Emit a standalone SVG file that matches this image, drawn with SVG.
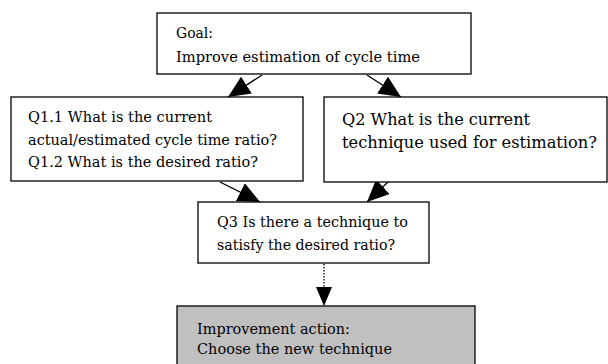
<svg xmlns="http://www.w3.org/2000/svg" width="608" height="364" viewBox="0 0 608 364">
<defs>
<style>
.box{fill:#fff;stroke:#000;stroke-width:1.3}
.gray{fill:#c0c0c0;stroke:#000;stroke-width:1.3}
.t{font-family:"DejaVu Serif","Liberation Serif",serif;font-size:14px;fill:#000}
.big{font-size:17px}
.conn{stroke:#000;stroke-width:1.3;fill:none}
.dot{stroke-dasharray:1.5 1.5}
</style>
<marker id="ah" viewBox="0 0 22 20" refX="22" refY="10" markerWidth="22" markerHeight="20" markerUnits="userSpaceOnUse" orient="auto">
<path d="M0,0 L22,10 L0,20 Z" fill="#000"/>
</marker>
<marker id="ahs" viewBox="0 0 19 16" refX="19" refY="8" markerWidth="19" markerHeight="16" markerUnits="userSpaceOnUse" orient="auto">
<path d="M0,0 L19,8 L0,16 Z" fill="#000"/>
</marker>
</defs>
<rect width="608" height="364" fill="#fff"/>
<g id="connectors">
<line class="conn" x1="262" y1="75" x2="228" y2="97" marker-end="url(#ah)"/>
<line class="conn" x1="367" y1="75" x2="401" y2="97" marker-end="url(#ah)"/>
<line class="conn" x1="220" y1="182" x2="260" y2="202" marker-end="url(#ah)"/>
<line class="conn" x1="388" y1="182" x2="367" y2="202" marker-end="url(#ah)"/>
<line class="conn dot" x1="324" y1="264" x2="324" y2="306" marker-end="url(#ahs)"/>
</g>
<g id="goal">
<rect class="box" x="157" y="13" width="314" height="61"/>
<text class="t" x="176" y="38" textLength="37" lengthAdjust="spacingAndGlyphs">Goal:</text>
<text class="t" x="176" y="62" textLength="244" lengthAdjust="spacingAndGlyphs">Improve estimation of cycle time</text>
</g>
<g id="q1">
<rect class="box" x="11" y="97" width="292" height="84"/>
<text class="t" x="28" y="122" textLength="184" lengthAdjust="spacingAndGlyphs">Q1.1 What is the current</text>
<text class="t" x="28" y="145" textLength="249" lengthAdjust="spacingAndGlyphs">actual/estimated cycle time ratio?</text>
<text class="t" x="28" y="167" textLength="230" lengthAdjust="spacingAndGlyphs">Q1.2 What is the desired ratio?</text>
</g>
<g id="q2">
<rect class="box" x="324" y="97" width="283" height="85"/>
<text class="t big" x="342" y="125" textLength="188" lengthAdjust="spacingAndGlyphs">Q2 What is the current</text>
<text class="t big" x="342" y="148" textLength="255" lengthAdjust="spacingAndGlyphs">technique used for estimation?</text>
</g>
<g id="q3">
<rect class="box" x="198" y="202" width="231" height="61"/>
<text class="t" x="217" y="227" textLength="191" lengthAdjust="spacingAndGlyphs">Q3 Is there a technique to</text>
<text class="t" x="217" y="250" textLength="178" lengthAdjust="spacingAndGlyphs">satisfy the desired ratio?</text>
</g>
<g id="action">
<rect class="gray" x="177" y="306" width="298" height="70"/>
<text class="t" x="197" y="334" textLength="153" lengthAdjust="spacingAndGlyphs">Improvement action:</text>
<text class="t" x="197" y="354" textLength="195" lengthAdjust="spacingAndGlyphs">Choose the new technique</text>
</g>
</svg>
